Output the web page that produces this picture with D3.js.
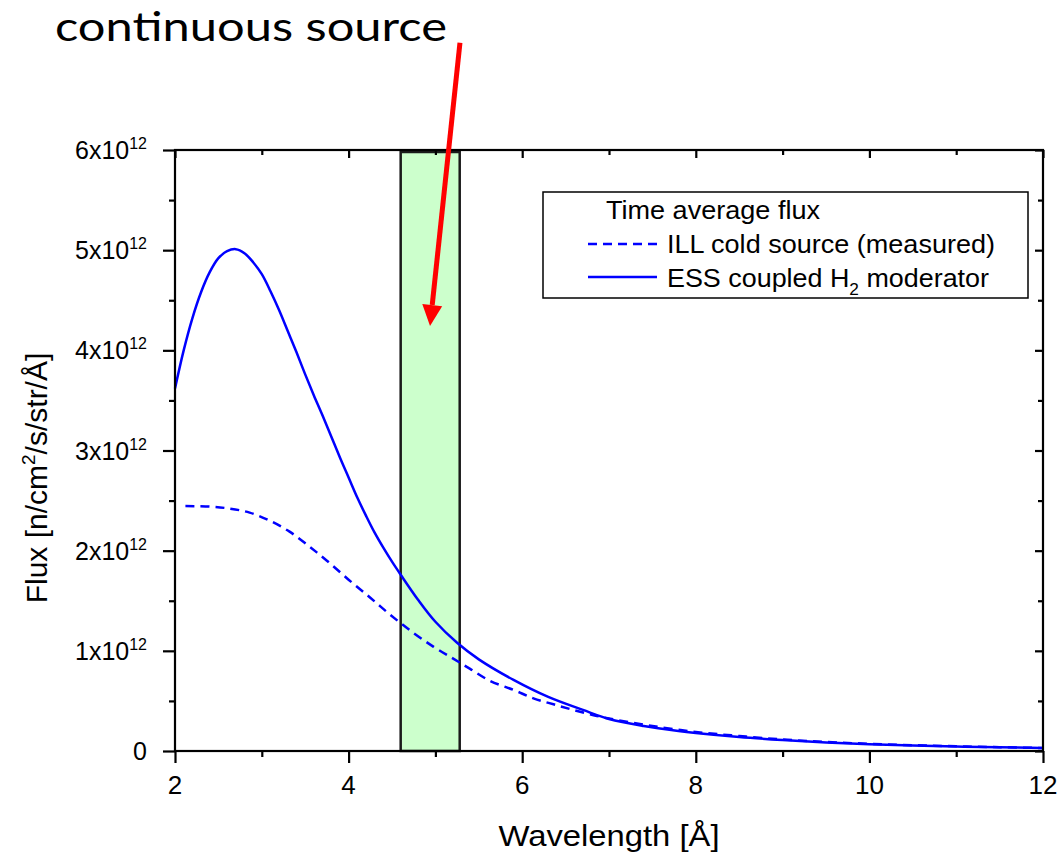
<!DOCTYPE html>
<html><head><meta charset="utf-8">
<script src="https://cdn.jsdelivr.net/npm/d3@7"></script>
<style>body{margin:0;background:#fff}svg{display:block}</style>
</head><body><svg id="c" width="1064" height="859"></svg>
<script>
// ---- data (flux in units of 1e12 n/cm2/s/str/Å) ----
const essWave = [2.0,2.1,2.2,2.3,2.4,2.5,2.6,2.7,2.8,2.9,3.0,3.1,3.2,3.3,3.4,3.5,3.6,3.7,3.8,3.9,4.0,4.1,4.2,4.3,4.4,4.5,4.6,4.8,5.0,5.25,5.5,5.9,6.3,6.7,7.0,7.4,7.8,8.0,8.5,9.0,9.5,10.0,10.5,11.0,11.5,12.0];
const essFlux = [3.62,4.00,4.32,4.58,4.78,4.92,4.99,5.01,4.97,4.88,4.76,4.59,4.40,4.19,3.98,3.76,3.55,3.35,3.14,2.93,2.73,2.53,2.35,2.18,2.03,1.89,1.76,1.51,1.29,1.08,0.915,0.71,0.54,0.41,0.32,0.25,0.20,0.18,0.14,0.11,0.085,0.068,0.055,0.045,0.037,0.03];
const illWave = [2.12,2.4,2.63,2.86,3.09,3.32,3.55,3.75,4.0,4.25,4.48,4.73,4.98,5.21,5.4,5.63,5.9,6.13,6.36,6.59,6.86,7.09,7.5,8.0,8.5,9.0,9.5,10.0,10.5,11.0,11.5,12.0];
const illFlux = [2.445,2.44,2.42,2.38,2.30,2.19,2.04,1.90,1.71,1.53,1.36,1.19,1.04,0.92,0.82,0.70,0.61,0.526,0.466,0.41,0.35,0.31,0.25,0.19,0.15,0.115,0.09,0.072,0.058,0.047,0.038,0.03];
const xMajor = [2,4,6,8,10,12];
const xMinor = [3,5,7,9,11];
const yMajor = [0,1,2,3,4,5,6];
const yMinor = [0.5,1.5,2.5,3.5,4.5,5.5];
const yTickMantissa = ["0","1x10","2x10","3x10","4x10","5x10","6x10"];
const yTickExponent = "12";
const bandRange = [4.6, 5.28];
const arrowTail = [5.283, 7.07];
const arrowTip = [4.938, 4.243];
const legendTitle = "Time average flux";
const seriesNames = ["ILL cold source (measured)", "ESS coupled H", "2", " moderator"];
const annotationText = "continuous source";
const xTitle = "Wavelength [Å]";

// ---- layout ----
const svg = d3.select("#c");
const L = 175, R = 1043, T = 150, B = 751;
const x = d3.scaleLinear().domain([2,12]).range([L,R]);
const y = d3.scaleLinear().domain([0,6]).range([B,T]);
const font = "'Liberation Sans', Arial, sans-serif";
const blue = "#0000ff";

// band
svg.append("rect")
  .attr("x", x(bandRange[0])).attr("y", y(6)+2)
  .attr("width", x(bandRange[1]) - x(bandRange[0]))
  .attr("height", y(0) - y(6) - 2)
  .attr("fill", "#ccffcc").attr("stroke", "#1a1a1a").attr("stroke-width", 2.5);

// curves
const line = d3.line().x(d=>x(d[0])).y(d=>y(d[1])).curve(d3.curveCatmullRom.alpha(0.5));
svg.append("path").datum(illWave.map((w,i)=>[w,illFlux[i]]))
  .attr("d", line).attr("fill","none").attr("stroke",blue).attr("stroke-width",2.5)
  .attr("stroke-dasharray","9,6");
svg.append("path").datum(essWave.map((w,i)=>[w,essFlux[i]]))
  .attr("d", line).attr("fill","none").attr("stroke",blue).attr("stroke-width",2.5);

// axes
function styleAxis(g){ g.select(".domain").remove(); g.selectAll("line").attr("stroke","#000").attr("stroke-width",2.2); g.selectAll("text").remove(); }
svg.append("g").attr("transform",`translate(0,${B})`).call(d3.axisBottom(x).tickValues(xMajor).tickSize(12)).call(styleAxis);
svg.append("g").attr("transform",`translate(0,${B})`).call(d3.axisBottom(x).tickValues(xMinor).tickSize(6)).call(styleAxis);
svg.append("g").attr("transform",`translate(0,${T})`).call(d3.axisBottom(x).tickValues(xMajor).tickSize(8)).call(styleAxis);
svg.append("g").attr("transform",`translate(0,${T})`).call(d3.axisBottom(x).tickValues(xMinor).tickSize(5)).call(styleAxis);
svg.append("g").attr("transform",`translate(${L},0)`).call(d3.axisLeft(y).tickValues(yMajor).tickSize(12)).call(styleAxis);
svg.append("g").attr("transform",`translate(${L},0)`).call(d3.axisLeft(y).tickValues(yMinor).tickSize(6)).call(styleAxis);
svg.append("g").attr("transform",`translate(${R},0)`).call(d3.axisLeft(y).tickValues(yMajor).tickSize(8)).call(styleAxis);
svg.append("g").attr("transform",`translate(${R},0)`).call(d3.axisLeft(y).tickValues(yMinor).tickSize(5)).call(styleAxis);
svg.append("rect").attr("x",L).attr("y",T).attr("width",R-L).attr("height",B-T)
  .attr("fill","none").attr("stroke","#000").attr("stroke-width",2.2);

// x tick labels
svg.append("g").selectAll("text").data(xMajor).join("text")
  .attr("x", d=>x(d)).attr("y", B+43).attr("text-anchor","middle")
  .attr("font-family",font).attr("font-size",26).attr("fill","#000").text(d=>d);

// y tick labels
const yl = svg.append("g").selectAll("text").data(yMajor).join("text")
  .attr("x", 147).attr("y", d=>y(d)+9).attr("text-anchor","end")
  .attr("font-family",font).attr("font-size",25).attr("fill","#000");
yl.append("tspan").text((d,i)=>yTickMantissa[i]);
yl.filter(d=>d!==0).append("tspan").attr("font-size",16).attr("dy",-10).text(yTickExponent);

// axis titles
svg.append("text").attr("x",(L+R)/2).attr("y",846).attr("text-anchor","middle")
  .attr("font-family",font).attr("font-size",30).attr("textLength",221).attr("lengthAdjust","spacingAndGlyphs")
  .attr("fill","#000").text(xTitle);
const yt = svg.append("text").attr("transform","translate(47,478) rotate(-90)")
  .attr("text-anchor","middle").attr("font-family",font).attr("font-size",30).attr("fill","#000");
yt.append("tspan").text("Flux [n/cm");
yt.append("tspan").attr("font-size",19).attr("dy",-12).text("2");
yt.append("tspan").attr("dy",12).text("/s/str/Å]");

// legend
const lg = svg.append("g");
lg.append("rect").attr("x",543).attr("y",192).attr("width",485).attr("height",106)
  .attr("fill","#fff").attr("stroke","#000").attr("stroke-width",1.5);
lg.append("text").attr("x",606).attr("y",219).attr("font-family",font).attr("font-size",25)
  .attr("textLength",214).attr("lengthAdjust","spacingAndGlyphs").text(legendTitle);
lg.append("line").attr("x1",588).attr("x2",657).attr("y1",244).attr("y2",244)
  .attr("stroke",blue).attr("stroke-width",2.5).attr("stroke-dasharray","9,6");
lg.append("text").attr("x",667).attr("y",253).attr("font-family",font).attr("font-size",25)
  .attr("textLength",328).attr("lengthAdjust","spacingAndGlyphs").text(seriesNames[0]);
lg.append("line").attr("x1",588).attr("x2",657).attr("y1",277).attr("y2",277)
  .attr("stroke",blue).attr("stroke-width",2.5);
const l3 = lg.append("text").attr("x",667).attr("y",287).attr("font-family",font).attr("font-size",25)
  .attr("textLength",322).attr("lengthAdjust","spacingAndGlyphs");
l3.append("tspan").text(seriesNames[1]);
l3.append("tspan").attr("font-size",16).attr("dy",8).text(seriesNames[2]);
l3.append("tspan").attr("dy",-8).text(seriesNames[3]);

// annotation
svg.append("text").attr("x",55).attr("y",41).attr("font-family","Lato, 'Open Sans', sans-serif")
  .attr("font-size",40).attr("textLength",392).attr("lengthAdjust","spacingAndGlyphs").attr("fill","#000").text(annotationText);
const tx = x(arrowTail[0]), ty = y(arrowTail[1]), hx = x(arrowTip[0]), hy = y(arrowTip[1]);
const ang = Math.atan2(hy-ty, hx-tx), hl = 21, hw = 10;
const bx = hx - hl*Math.cos(ang), by = hy - hl*Math.sin(ang);
svg.append("line").attr("x1",tx).attr("y1",ty).attr("x2",bx).attr("y2",by)
  .attr("stroke","#ff0000").attr("stroke-width",5);
svg.append("path").attr("d", d3.line()([[hx,hy],[bx+hw*Math.sin(ang), by-hw*Math.cos(ang)],[bx-hw*Math.sin(ang), by+hw*Math.cos(ang)]])+"Z")
  .attr("fill","#ff0000");
</script></body></html>
